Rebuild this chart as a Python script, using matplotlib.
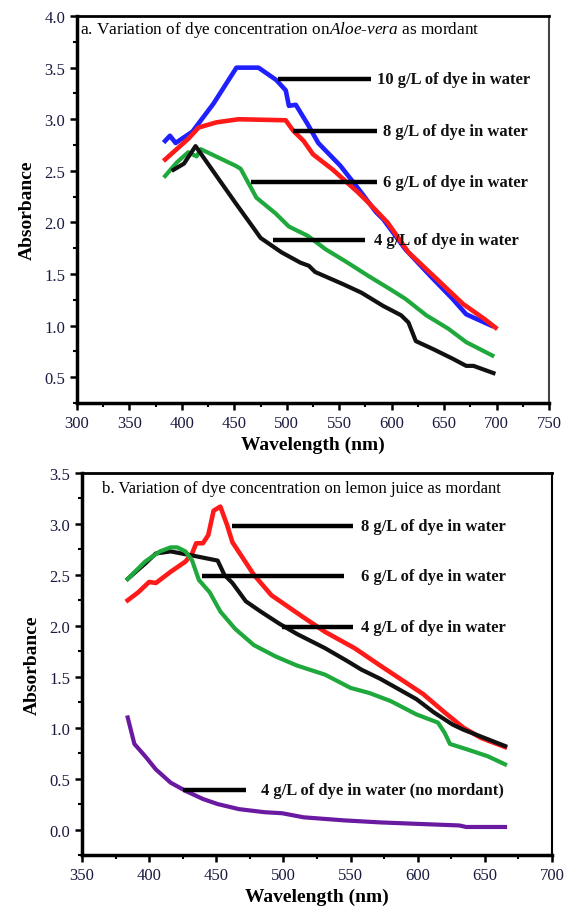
import numpy as np
import matplotlib
matplotlib.use("Agg")
import matplotlib.pyplot as plt
from matplotlib.ticker import MultipleLocator

plt.rcParams['font.family'] = ['Liberation Serif', 'DejaVu Serif']
plt.rcParams['mathtext.fontset'] = 'custom'
plt.rcParams['mathtext.rm'] = 'Liberation Serif'
plt.rcParams['mathtext.it'] = 'Liberation Serif:italic'

# ---- panel a: Aloe-vera as mordant ----
a_wl_10 = [384, 388.6, 394, 410, 430, 452, 473, 490, 499, 502, 508.6, 520, 530, 551, 571, 585,
           592, 613, 637, 658, 671, 695]
a_ab_10 = [2.79, 2.84, 2.77, 2.88, 3.15, 3.50, 3.50, 3.38, 3.28, 3.13, 3.14, 2.95, 2.77, 2.55, 2.29,
           2.10, 2.03, 1.74, 1.48, 1.26, 1.11, 1.00]
a_wl_8 = [384, 406, 416, 433, 454, 499, 506, 516, 525, 544, 568, 578, 596, 616, 640, 668, 689, 699]
a_ab_8 = [2.61, 2.81, 2.92, 2.97, 3.00, 2.99, 2.89, 2.79, 2.66, 2.51, 2.29, 2.19, 2.00, 1.71, 1.48,
          1.21, 1.06, 0.98]
a_wl_6 = [384, 395, 406, 414, 418, 451, 456, 471, 489, 502, 520, 537, 558, 578, 599, 613, 633, 654,
          671, 696]
a_ab_6 = [2.45, 2.58, 2.68, 2.64, 2.71, 2.55, 2.52, 2.24, 2.09, 1.96, 1.87, 1.74, 1.61, 1.48, 1.35,
          1.26, 1.10, 0.97, 0.84, 0.71]
a_wl_4 = [392, 402, 413, 433, 451, 468, 475, 495, 513, 521, 527, 554, 571, 592, 609, 616, 623, 640,
          658, 671, 678, 697]
a_ab_4 = [2.51, 2.57, 2.74, 2.45, 2.19, 1.95, 1.85, 1.71, 1.61, 1.58, 1.52, 1.40, 1.32, 1.19, 1.10,
          1.03, 0.85, 0.77, 0.68, 0.61, 0.61, 0.54]

# ---- panel b: lemon juice as mordant ----
b_wl_8 = [384, 392, 400, 405, 416, 427, 432, 435, 440, 444, 448, 453, 458, 462, 470, 478, 491, 502,
          513, 531, 553, 572, 588, 604, 620, 634, 647, 665]
b_ab_8 = [2.25, 2.33, 2.43, 2.42, 2.53, 2.63, 2.71, 2.81, 2.81, 2.89, 3.13, 3.17, 2.99, 2.82, 2.66,
          2.50, 2.30, 2.20, 2.10, 1.94, 1.78, 1.61, 1.47, 1.33, 1.15, 1.00, 0.90, 0.81]
b_wl_6 = [384, 397, 408, 416, 421, 427, 432, 437, 445, 453, 464, 478, 494, 510, 531, 550, 564, 580,
          599, 615, 620, 624, 636, 652, 665]
b_ab_6 = [2.46, 2.63, 2.73, 2.77, 2.77, 2.73, 2.64, 2.45, 2.33, 2.14, 1.97, 1.81, 1.70, 1.61, 1.52,
          1.39, 1.34, 1.26, 1.13, 1.05, 0.95, 0.84, 0.79, 0.72, 0.64]
b_wl_4 = [384, 397, 405, 416, 424, 432, 451, 456, 462, 472, 483, 497, 510, 531, 548, 558, 572, 599,
          612, 626, 634, 665]
b_ab_4 = [2.46, 2.61, 2.71, 2.73, 2.71, 2.69, 2.64, 2.50, 2.42, 2.24, 2.14, 2.02, 1.92, 1.78, 1.65,
          1.57, 1.48, 1.28, 1.15, 1.03, 0.98, 0.82]
b_wl_0 = [384, 389, 397, 405, 416, 427, 440, 451, 467, 486, 499, 515, 545, 572, 599, 631, 636, 665]
b_ab_0 = [1.10, 0.84, 0.72, 0.59, 0.46, 0.38, 0.30, 0.25, 0.20, 0.17, 0.16, 0.12, 0.09, 0.07, 0.056,
          0.04, 0.025, 0.025]

a_labels = ["10 g/L of dye in water", "8 g/L of dye in water",
            "6 g/L of dye in water", "4 g/L of dye in water"]
b_labels = ["8 g/L of dye in water", "6 g/L of dye in water",
            "4 g/L of dye in water", "4 g/L of dye in water (no mordant)"]

BLUE, RED, GREEN, BLACK, PURPLE = '#1f1fff', '#ff1a1a', '#1fa83c', '#111111', '#6a1aa0'
TICKC = '#1a1a40'


def style_axes(ax, xlim, ylim, ymaj):
    ax.set_xlim(*xlim)
    ax.set_ylim(*ylim)
    ax.xaxis.set_major_locator(MultipleLocator(50))
    ax.xaxis.set_minor_locator(MultipleLocator(25))
    ax.yaxis.set_major_locator(MultipleLocator(ymaj))
    ax.yaxis.set_minor_locator(MultipleLocator(ymaj / 2))
    ax.yaxis.set_major_formatter(plt.FormatStrFormatter('%.1f'))
    ax.tick_params(which='major', direction='out', length=5, width=1.8,
                   labelsize=12, labelcolor=TICKC, top=False, right=False)
    ax.tick_params(which='minor', direction='out', length=3, width=1.5,
                   top=False, right=False)
    for s in ['left', 'bottom']:
        ax.spines[s].set_linewidth(2.5)
    ax.spines['top'].set_linewidth(2.0)
    ax.spines['right'].set_linewidth(1.5)
    ax.spines['right'].set_color('#444444')
    ax.set_xlabel('Wavelength (nm)', fontsize=14, fontweight='bold', labelpad=2)
    ax.set_ylabel('Absorbance', fontsize=14, fontweight='bold', labelpad=6)


def label(ax, x0, x1, y, xt, text):
    ax.plot([x0, x1], [y, y], color='black', lw=3.2, solid_capstyle='butt', zorder=4)
    ax.text(xt, y, text, fontsize=12, fontweight='bold', va='center', ha='left', color='#111111')


fig = plt.figure(figsize=(5.68, 9.12), dpi=100)

# panel a
ax1 = fig.add_axes([0.1356, 0.557, 0.831, 0.4243])
ax1.plot(a_wl_10, a_ab_10, color=BLUE, lw=3.3)
ax1.plot(a_wl_8, a_ab_8, color=RED, lw=3.3)
ax1.plot(a_wl_6, a_ab_6, color=GREEN, lw=3.0)
ax1.plot(a_wl_4, a_ab_4, color=BLACK, lw=3.0)
style_axes(ax1, (300, 750), (0.25, 4.0), 0.5)
ax1.xaxis.set_label_coords(0.5, -0.085)
ax1.text(303, 3.87, r"a. Variation of dye concentration on$\mathit{Aloe}$-$\mathit{vera}$ as mordant",
         fontsize=12.4, va='center', ha='left')
label(ax1, 492, 580, 3.39, 586, a_labels[0])
label(ax1, 506, 586, 2.89, 592, a_labels[1])
label(ax1, 466, 586, 2.39, 592, a_labels[2])
label(ax1, 487, 575, 1.83, 583, a_labels[3])

# panel b
ax2 = fig.add_axes([0.1444, 0.0614, 0.8275, 0.4189])
ax2.plot(b_wl_8, b_ab_8, color=RED, lw=3.3)
ax2.plot(b_wl_4, b_ab_4, color=BLACK, lw=3.0)
ax2.plot(b_wl_6, b_ab_6, color=GREEN, lw=3.0)
ax2.plot(b_wl_0, b_ab_0, color=PURPLE, lw=3.0)
style_axes(ax2, (350, 700), (-0.25, 3.5), 0.5)
ax2.spines['right'].set_color('black')
ax2.xaxis.set_label_coords(0.5, -0.085)
ax2.text(365, 3.35, "b. Variation of dye concentration on lemon juice as mordant",
         fontsize=12, va='center', ha='left')
label(ax2, 462, 552, 2.98, 558, b_labels[0])
label(ax2, 439, 545, 2.49, 558, b_labels[1])
label(ax2, 499, 552, 1.99, 558, b_labels[2])
label(ax2, 425, 472, 0.39, 483, b_labels[3])

fig.savefig('out.png', dpi=100)
